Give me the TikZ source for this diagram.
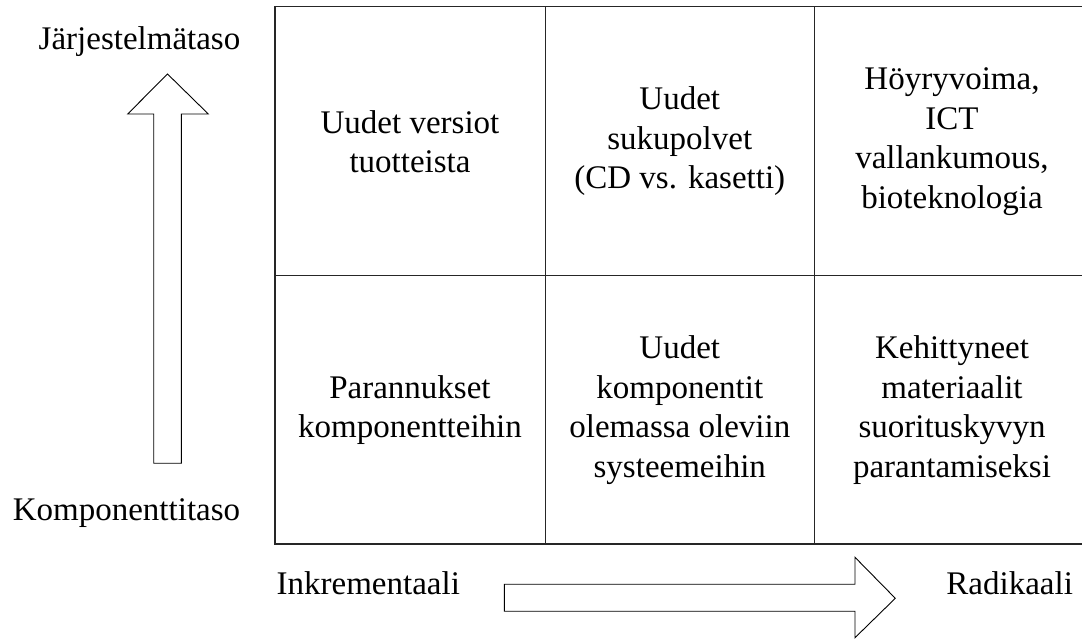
\documentclass[tikz,border=0pt]{standalone}
\usepackage{fontspec}
\setmainfont{Liberation Serif}
\begin{document}
\begin{tikzpicture}[x=1pt,y=1pt,
  gridline/.style={line width=1.4pt,draw=black!85},
  bigarrow/.style={line width=0.9pt,draw=black,fill=white,line join=miter},
  lbl/.style={font=\fontsize{33}{39}\selectfont,inner sep=0pt,anchor=base},
  celltext/.style={font=\fontsize{33}{39.5}\selectfont,inner sep=0pt,align=center,anchor=center}]
\useasboundingbox (0,0) rectangle (1082,639);
% grid (image y -> 639 - y)
\coordinate (tl) at (275,632.3);
\coordinate (bl) at (275,95);
\draw[gridline] (1082,632.3) -- (tl) -- (bl) -- (1082,95);
\draw[gridline] (275,363.3) -- (1082,363.3);
\draw[gridline] (545.3,632.3) -- (545.3,95);
\draw[gridline] (814.3,632.3) -- (814.3,95);
% cell texts
\node[celltext] (c11) at (410,497.5) {Uudet versiot\\tuotteista};
\node[celltext] (c12) at (679.8,497.5) {Uudet\\sukupolvet\\(CD vs. kasetti)};
\node[celltext] (c13) at (952,497.5) {Höyryvoima,\\ICT\\vallankumous,\\bioteknologia};
\node[celltext] (c21) at (410,229) {Parannukset\\komponentteihin};
\node[celltext] (c22) at (679.8,229) {Uudet\\komponentit\\olemassa oleviin\\systeemeihin};
\node[celltext] (c23) at (952,229) {Kehittyneet\\materiaalit\\suorituskyvyn\\parantamiseksi};
% axis labels
\node[lbl] (top) at (139.5,589) {Järjestelmätaso};
\node[lbl] (bot) at (126.5,118) {Komponenttitaso};
\node[lbl] (inc) at (368.3,44) {Inkrementaali};
\node[lbl] (rad) at (1009.7,44) {Radikaali};
% vertical block arrow
\draw[bigarrow] (153.7,175.7) -- (153.7,525) -- (127.7,525) -- (167.5,565)
  -- (208.3,525) -- (181.3,525) -- (181.3,175.7) -- cycle;
% horizontal block arrow
\draw[bigarrow] (504.3,54.7) -- (855,54.7) -- (855,81.7) -- (895.3,40.7)
  -- (855,1.3) -- (855,27.7) -- (504.3,27.7) -- cycle;
\end{tikzpicture}
\end{document}
